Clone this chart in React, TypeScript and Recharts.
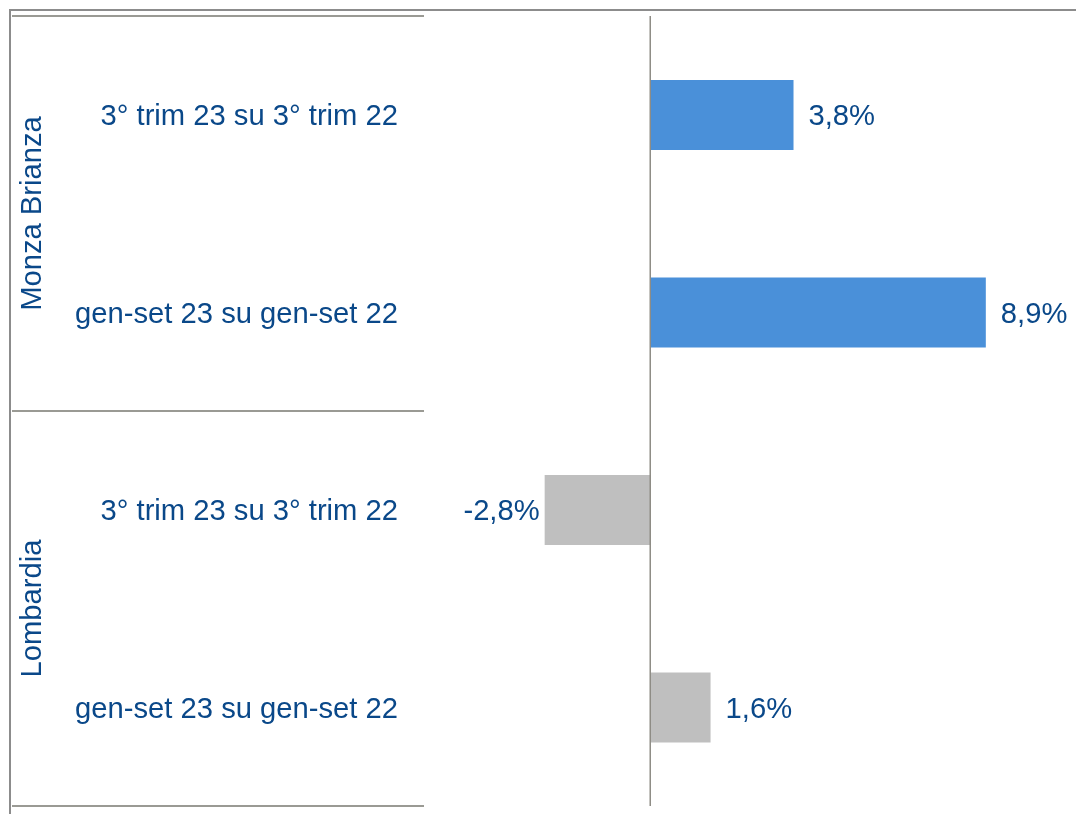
import React from "react";
import {
    BarChart,
    Bar,
    XAxis,
    YAxis,
    Cell,
    LabelList,
    ReferenceLine,
} from "recharts";

// values (% change)
const categories = [
    "3° trim 23 su 3° trim 22",
    "gen-set 23 su gen-set 22",
    "3° trim 23 su 3° trim 22",
    "gen-set 23 su gen-set 22",
];
const groups = ["Monza Brianza", "Monza Brianza", "Lombardia", "Lombardia"];
const values = [3.8, 8.9, -2.8, 1.6];
const groupColors: Record<string, string> = {
    "Monza Brianza": "#4A90D9",
    Lombardia: "#BFBFBF",
};

const TEXT = "#0A4889";
const LINE = "#9A9A94";
const FONT = "'Liberation Sans', Arial, sans-serif";
const FS = 29.2;

const data = categories.map((c, i) => ({
    id: `c${i}`,
    name: c,
    group: groups[i],
    value: values[i],
}));

const fmt = (v: number) => `${v.toFixed(1).replace(".", ",")}%`;

const CategoryTick = (props: any) => {
    const { y, payload } = props;
    const i = payload.index;
    const half = payload.offset || 790 / categories.length / 2;
    const isGroupStart = i === 0 || groups[i] !== groups[i - 1];
    const isLast = i === categories.length - 1;
    return (
        <g>
            {isGroupStart && (
                <line x1={1} x2={413} y1={y - half} y2={y - half} stroke={LINE} strokeWidth={2} />
            )}
            {isLast && (
                <line x1={1} x2={413} y1={y + half} y2={y + half} stroke={LINE} strokeWidth={2} />
            )}
            {isGroupStart && (
                <text
                    x={20}
                    y={y + half}
                    dy="0.355em"
                    textAnchor="middle"
                    transform={`rotate(-90, 20, ${y + half})`}
                    fill={TEXT}
                    fontSize={FS}
                    fontFamily={FONT}
                >
                    {groups[i]}
                </text>
            )}
            <text
                x={387}
                y={y}
                dy="0.355em"
                textAnchor="end"
                fill={TEXT}
                fontSize={FS}
                fontFamily={FONT}
            >
                {categories[i]}
            </text>
        </g>
    );
};

const ValueLabel = (props: any) => {
    const { x, y, width, height, value } = props;
    const neg = value < 0;
    const tx = neg ? x + width - 5 : x + width + 15;
    return (
        <text
            x={tx}
            y={y + height / 2}
            dy="0.355em"
            textAnchor={neg ? "end" : "start"}
            fill={TEXT}
            fontSize={FS}
            fontFamily={FONT}
        >
            {fmt(value)}
        </text>
    );
};

const App: React.FC = () => {
    return (
        <div
            style={{
                position: "fixed",
                left: 9,
                top: 9,
                width: 1065,
                height: 803,
                borderTop: "2px solid #8C8C8C",
                borderLeft: "2px solid #8C8C8C",
            }}
        >
            <BarChart
                width={1065}
                height={803}
                data={data}
                layout="vertical"
                margin={{ top: 5, right: 11, bottom: 8, left: 0 }}
                barSize={70}
            >
                <XAxis type="number" domain={[-6, 11]} hide />
                <YAxis
                    type="category"
                    dataKey="id"
                    width={413}
                    axisLine={false}
                    tickLine={false}
                    tick={<CategoryTick />}
                    interval={0}
                />
                <Bar dataKey="value" isAnimationActive={false}>
                    {data.map((d) => (
                        <Cell key={d.id} fill={groupColors[d.group]} />
                    ))}
                    <LabelList dataKey="value" content={<ValueLabel />} />
                </Bar>
                <ReferenceLine x={0} stroke="#8E8C85" strokeWidth={1.5} />
            </BarChart>
        </div>
    );
};

export default App;
